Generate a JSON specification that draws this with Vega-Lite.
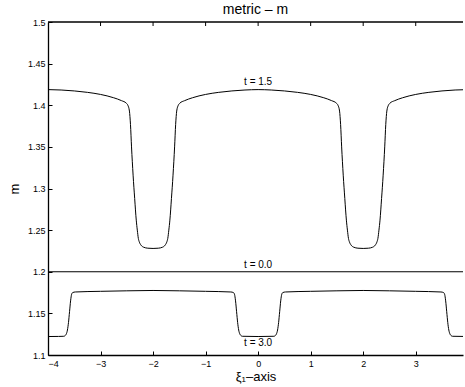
{
  "$schema": "https://vega.github.io/schema/vega-lite/v6.json",
  "width": 415,
  "height": 333,
  "autosize": {"type": "none"},
  "padding": {"left": 48, "top": 22, "right": 2, "bottom": 32},
  "background": "white",
  "config": {
    "view": {"stroke": null},
    "font": "Liberation Sans",
    "axis": {"grid": false, "domainColor": "black", "tickColor": "black", "labelColor": "black", "titleColor": "black", "labelFont": "Liberation Sans", "titleFont": "Liberation Sans", "labelFontSize": 9, "titleFontSize": 13, "titleFontWeight": "normal", "domainWidth": 1.3, "tickWidth": 1, "tickSize": -4}
  },
  "title": {"text": "metric – m", "fontSize": 14, "fontWeight": "normal", "font": "Liberation Sans", "color": "black", "offset": 1},
  "datasets": {
    "curves": [
      {"t": "1.5", "x": -4.0, "m": 1.4188}, {"t": "1.5", "x": -3.75, "m": 1.4183}, {"t": "1.5", "x": -3.5, "m": 1.4172}, {"t": "1.5", "x": -3.25, "m": 1.4155}, {"t": "1.5", "x": -3.0, "m": 1.413}, {"t": "1.5", "x": -2.75, "m": 1.409}, {"t": "1.5", "x": -2.6, "m": 1.4055}, {"t": "1.5", "x": -2.51, "m": 1.4025}, {"t": "1.5", "x": -2.48, "m": 1.4}, {"t": "1.5", "x": -2.45, "m": 1.393}, {"t": "1.5", "x": -2.43, "m": 1.377}, {"t": "1.5", "x": -2.41, "m": 1.35}, {"t": "1.5", "x": -2.38, "m": 1.316}, {"t": "1.5", "x": -2.35, "m": 1.288}, {"t": "1.5", "x": -2.32, "m": 1.262}, {"t": "1.5", "x": -2.3, "m": 1.25}, {"t": "1.5", "x": -2.28, "m": 1.24}, {"t": "1.5", "x": -2.26, "m": 1.2355}, {"t": "1.5", "x": -2.23, "m": 1.232}, {"t": "1.5", "x": -2.18, "m": 1.2295}, {"t": "1.5", "x": -2.1, "m": 1.2283}, {"t": "1.5", "x": -2.0, "m": 1.228},
      {"t": "1.5", "x": -1.9, "m": 1.2283}, {"t": "1.5", "x": -1.82, "m": 1.2295}, {"t": "1.5", "x": -1.77, "m": 1.232}, {"t": "1.5", "x": -1.74, "m": 1.2355}, {"t": "1.5", "x": -1.72, "m": 1.24}, {"t": "1.5", "x": -1.7, "m": 1.25}, {"t": "1.5", "x": -1.68, "m": 1.262}, {"t": "1.5", "x": -1.65, "m": 1.288}, {"t": "1.5", "x": -1.62, "m": 1.316}, {"t": "1.5", "x": -1.59, "m": 1.35}, {"t": "1.5", "x": -1.57, "m": 1.377}, {"t": "1.5", "x": -1.55, "m": 1.393}, {"t": "1.5", "x": -1.52, "m": 1.4}, {"t": "1.5", "x": -1.49, "m": 1.4025}, {"t": "1.5", "x": -1.4, "m": 1.4055}, {"t": "1.5", "x": -1.25, "m": 1.409}, {"t": "1.5", "x": -1.0, "m": 1.413}, {"t": "1.5", "x": -0.75, "m": 1.4155}, {"t": "1.5", "x": -0.5, "m": 1.4172}, {"t": "1.5", "x": -0.25, "m": 1.4183}, {"t": "1.5", "x": 0.0, "m": 1.4188},
      {"t": "1.5", "x": 0.25, "m": 1.4183}, {"t": "1.5", "x": 0.5, "m": 1.4172}, {"t": "1.5", "x": 0.75, "m": 1.4155}, {"t": "1.5", "x": 1.0, "m": 1.413}, {"t": "1.5", "x": 1.25, "m": 1.409}, {"t": "1.5", "x": 1.4, "m": 1.4055}, {"t": "1.5", "x": 1.49, "m": 1.4025}, {"t": "1.5", "x": 1.52, "m": 1.4}, {"t": "1.5", "x": 1.55, "m": 1.393}, {"t": "1.5", "x": 1.57, "m": 1.377}, {"t": "1.5", "x": 1.59, "m": 1.35}, {"t": "1.5", "x": 1.62, "m": 1.316}, {"t": "1.5", "x": 1.65, "m": 1.288}, {"t": "1.5", "x": 1.68, "m": 1.262}, {"t": "1.5", "x": 1.7, "m": 1.25}, {"t": "1.5", "x": 1.72, "m": 1.24}, {"t": "1.5", "x": 1.74, "m": 1.2355}, {"t": "1.5", "x": 1.77, "m": 1.232}, {"t": "1.5", "x": 1.82, "m": 1.2295}, {"t": "1.5", "x": 1.9, "m": 1.2283}, {"t": "1.5", "x": 2.0, "m": 1.228},
      {"t": "1.5", "x": 2.1, "m": 1.2283}, {"t": "1.5", "x": 2.18, "m": 1.2295}, {"t": "1.5", "x": 2.23, "m": 1.232}, {"t": "1.5", "x": 2.26, "m": 1.2355}, {"t": "1.5", "x": 2.28, "m": 1.24}, {"t": "1.5", "x": 2.3, "m": 1.25}, {"t": "1.5", "x": 2.32, "m": 1.262}, {"t": "1.5", "x": 2.35, "m": 1.288}, {"t": "1.5", "x": 2.38, "m": 1.316}, {"t": "1.5", "x": 2.41, "m": 1.35}, {"t": "1.5", "x": 2.43, "m": 1.377}, {"t": "1.5", "x": 2.45, "m": 1.393}, {"t": "1.5", "x": 2.48, "m": 1.4}, {"t": "1.5", "x": 2.51, "m": 1.4025}, {"t": "1.5", "x": 2.6, "m": 1.4055}, {"t": "1.5", "x": 2.75, "m": 1.409}, {"t": "1.5", "x": 3.0, "m": 1.413}, {"t": "1.5", "x": 3.25, "m": 1.4155}, {"t": "1.5", "x": 3.5, "m": 1.4172}, {"t": "1.5", "x": 3.75, "m": 1.4183}, {"t": "1.5", "x": 3.9, "m": 1.4186},
      {"t": "0.0", "x": -4.0, "m": 1.2}, {"t": "0.0", "x": 3.9, "m": 1.2},
      {"t": "3.0", "x": -4.0, "m": 1.1222}, {"t": "3.0", "x": -3.8, "m": 1.1223}, {"t": "3.0", "x": -3.7, "m": 1.1225}, {"t": "3.0", "x": -3.67, "m": 1.1235}, {"t": "3.0", "x": -3.65, "m": 1.1255}, {"t": "3.0", "x": -3.63, "m": 1.13}, {"t": "3.0", "x": -3.61, "m": 1.139}, {"t": "3.0", "x": -3.59, "m": 1.152}, {"t": "3.0", "x": -3.57, "m": 1.165}, {"t": "3.0", "x": -3.55, "m": 1.173}, {"t": "3.0", "x": -3.53, "m": 1.175}, {"t": "3.0", "x": -3.48, "m": 1.1757}, {"t": "3.0", "x": -3.0, "m": 1.1765}, {"t": "3.0", "x": -2.5, "m": 1.1771}, {"t": "3.0", "x": -2.0, "m": 1.1775}, {"t": "3.0", "x": -1.5, "m": 1.1771}, {"t": "3.0", "x": -1.0, "m": 1.1765}, {"t": "3.0", "x": -0.52, "m": 1.1757}, {"t": "3.0", "x": -0.47, "m": 1.175}, {"t": "3.0", "x": -0.45, "m": 1.173}, {"t": "3.0", "x": -0.43, "m": 1.165}, {"t": "3.0", "x": -0.41, "m": 1.152}, {"t": "3.0", "x": -0.39, "m": 1.139}, {"t": "3.0", "x": -0.37, "m": 1.13}, {"t": "3.0", "x": -0.35, "m": 1.1255}, {"t": "3.0", "x": -0.33, "m": 1.1235}, {"t": "3.0", "x": -0.3, "m": 1.1225}, {"t": "3.0", "x": 0.0, "m": 1.1222},
      {"t": "3.0", "x": 0.3, "m": 1.1225}, {"t": "3.0", "x": 0.33, "m": 1.1235}, {"t": "3.0", "x": 0.35, "m": 1.1255}, {"t": "3.0", "x": 0.37, "m": 1.13}, {"t": "3.0", "x": 0.39, "m": 1.139}, {"t": "3.0", "x": 0.41, "m": 1.152}, {"t": "3.0", "x": 0.43, "m": 1.165}, {"t": "3.0", "x": 0.45, "m": 1.173}, {"t": "3.0", "x": 0.47, "m": 1.175}, {"t": "3.0", "x": 0.52, "m": 1.1757}, {"t": "3.0", "x": 1.0, "m": 1.1765}, {"t": "3.0", "x": 1.5, "m": 1.1771}, {"t": "3.0", "x": 2.0, "m": 1.1775}, {"t": "3.0", "x": 2.5, "m": 1.1771}, {"t": "3.0", "x": 3.0, "m": 1.1765}, {"t": "3.0", "x": 3.48, "m": 1.1757}, {"t": "3.0", "x": 3.53, "m": 1.175}, {"t": "3.0", "x": 3.55, "m": 1.173}, {"t": "3.0", "x": 3.57, "m": 1.165}, {"t": "3.0", "x": 3.59, "m": 1.152}, {"t": "3.0", "x": 3.61, "m": 1.139}, {"t": "3.0", "x": 3.63, "m": 1.13}, {"t": "3.0", "x": 3.65, "m": 1.1255}, {"t": "3.0", "x": 3.67, "m": 1.1235}, {"t": "3.0", "x": 3.7, "m": 1.1225}, {"t": "3.0", "x": 3.9, "m": 1.1223}
    ],
    "labels": [
      {"x": 0, "m": 1.4285, "label": "t = 1.5"},
      {"x": 0, "m": 1.2087, "label": "t = 0.0"},
      {"x": 0, "m": 1.1144, "label": "t = 3.0"}
    ],
    "topticks": [
      {"x": -3, "m": 1.5}, {"x": -2, "m": 1.5}, {"x": -1, "m": 1.5}, {"x": 0, "m": 1.5},
      {"x": 1, "m": 1.5}, {"x": 2, "m": 1.5}, {"x": 3, "m": 1.5}
    ]
  },
  "layer": [
    {
      "data": {"name": "curves"},
      "mark": {"type": "line", "color": "black", "strokeWidth": 1, "interpolate": "monotone", "clip": true},
      "encoding": {
        "x": {"field": "x", "type": "quantitative", "scale": {"domain": [-4, 3.9], "nice": false, "zero": false},
          "axis": {"orient": "bottom", "values": [-4, -3, -2, -1, 0, 1, 2, 3], "format": "~g", "title": "ξ₁–axis", "labelPadding": 8, "titlePadding": 2}},
        "y": {"field": "m", "type": "quantitative", "scale": {"domain": [1.1, 1.5], "nice": false, "zero": false},
          "axis": {"values": [1.1, 1.15, 1.2, 1.25, 1.3, 1.35, 1.4, 1.45, 1.5], "format": "~g", "title": "m", "labelPadding": 7, "titlePadding": 6}},
        "detail": {"field": "t"}
      }
    },
    {
      "data": {"name": "labels"},
      "mark": {"type": "text", "color": "black", "fontSize": 10, "font": "Liberation Sans", "baseline": "middle", "align": "center"},
      "encoding": {
        "x": {"field": "x", "type": "quantitative"},
        "y": {"field": "m", "type": "quantitative"},
        "text": {"field": "label"}
      }
    },
    {
      "data": {"values": [{"top": 1.5}]},
      "mark": {"type": "rule", "color": "black", "strokeWidth": 1.3},
      "encoding": {
        "y": {"field": "top", "type": "quantitative"}
      }
    },
    {
      "data": {"name": "topticks"},
      "mark": {"type": "tick", "orient": "vertical", "color": "black", "size": 8, "thickness": 1, "clip": true, "opacity": 1},
      "encoding": {
        "x": {"field": "x", "type": "quantitative"},
        "y": {"field": "m", "type": "quantitative"}
      }
    }
  ]
}
